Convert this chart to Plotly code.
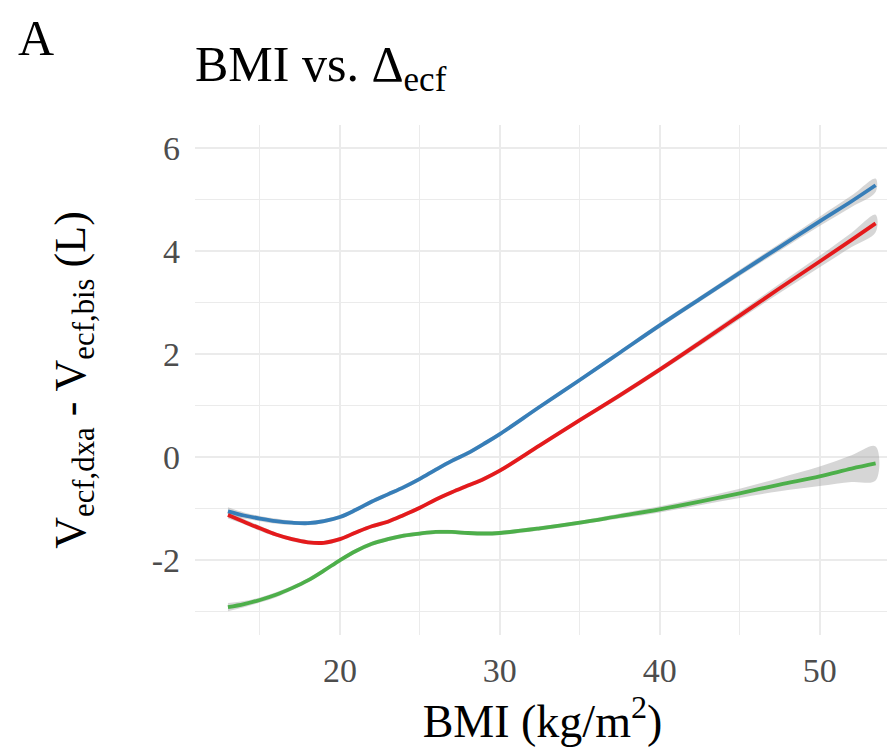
import plotly.graph_objects as go

# ---- data ----
bmi = [13, 14, 15, 16, 17, 18, 19, 20, 21, 22, 23, 24, 25, 26, 27, 28, 29, 30,
       32.5, 35, 37.5, 40, 42.5, 45, 47.5, 50, 52, 53.5]

blue_fit = [-1.05, -1.13, -1.19, -1.24, -1.27, -1.28, -1.24, -1.16, -1.02, -0.86,
            -0.72, -0.58, -0.42, -0.24, -0.07, 0.08, 0.26, 0.45,
            0.98, 1.50, 2.03, 2.56, 3.07, 3.58, 4.08, 4.58, 4.97, 5.28]
blue_se = [0.08, 0.06, 0.05, 0.05, 0.04, 0.04, 0.04, 0.04, 0.04, 0.04,
           0.04, 0.04, 0.04, 0.04, 0.04, 0.04, 0.04, 0.04,
           0.04, 0.04, 0.04, 0.05, 0.05, 0.06, 0.07, 0.09, 0.11, 0.13]

red_fit = [-1.12, -1.25, -1.38, -1.50, -1.59, -1.65, -1.66, -1.59, -1.46, -1.34,
           -1.25, -1.12, -0.98, -0.82, -0.68, -0.55, -0.42, -0.26,
           0.23, 0.72, 1.20, 1.70, 2.22, 2.75, 3.28, 3.80, 4.22, 4.54]
red_se = [0.07, 0.05, 0.05, 0.04, 0.04, 0.04, 0.04, 0.04, 0.04, 0.04,
          0.04, 0.04, 0.04, 0.04, 0.04, 0.04, 0.04, 0.04,
          0.04, 0.04, 0.05, 0.05, 0.06, 0.07, 0.09, 0.11, 0.14, 0.17]

green_fit = [-2.91, -2.85, -2.77, -2.67, -2.54, -2.39, -2.20, -2.00, -1.82, -1.68,
             -1.59, -1.52, -1.48, -1.45, -1.45, -1.47, -1.48, -1.47,
             -1.38, -1.27, -1.14, -1.01, -0.86, -0.70, -0.53, -0.37, -0.22, -0.12]
green_se = [0.08, 0.06, 0.05, 0.05, 0.04, 0.04, 0.04, 0.04, 0.04, 0.04,
            0.04, 0.04, 0.04, 0.04, 0.04, 0.04, 0.04, 0.04,
            0.04, 0.04, 0.05, 0.06, 0.07, 0.09, 0.13, 0.19, 0.26, 0.33]

series = [
    ("blue", blue_fit, blue_se, "#377EB8"),
    ("red", red_fit, red_se, "#E41A1C"),
    ("green", green_fit, green_se, "#4DAF4A"),
]

x_ticks = [20, 30, 40, 50]
y_ticks = [-2, 0, 2, 4, 6]

FONT = "Liberation Serif, Times New Roman, serif"

# page has an 8px body margin, so the figure is drawn 8px smaller/offset
W, H = 887, 744
ML, MR, MT, MB = 187, 5, 117, 117
PW, PH = W - ML - MR, H - MT - MB

fig = go.Figure()

for name, fit, se, col in series:
    upper = [f + s for f, s in zip(fit, se)]
    lower = [f - s for f, s in zip(fit, se)]
    fig.add_trace(go.Scatter(
        x=bmi + bmi[::-1], y=upper + lower[::-1],
        fill="toself", fillcolor="rgba(153,153,153,0.4)",
        line=dict(width=0, shape="spline"), mode="lines",
        hoverinfo="skip", showlegend=False, name=name + " CI"))

for name, fit, se, col in series:
    fig.add_trace(go.Scatter(
        x=bmi, y=fit, mode="lines", name=name,
        line=dict(color=col, width=3.8, shape="spline"),
        showlegend=False))

fig.update_layout(
    width=W, height=H,
    margin=dict(l=ML, r=MR, t=MT, b=MB, autoexpand=False),
    paper_bgcolor="white", plot_bgcolor="white",
    font=dict(family=FONT, color="#000000"),
    title=dict(text="BMI vs. Δ<sub>ecf</sub>", x=187 / W, xanchor="left",
               y=1 - 55 / H, yanchor="middle",
               font=dict(family=FONT, size=50, color="#000000")),
    annotations=[dict(text="A", xref="paper", yref="paper",
                      x=(8 - ML) / PW, y=1 + MT / PH,
                      xanchor="left", yanchor="top", showarrow=False,
                      font=dict(family=FONT, size=50, color="#000000"))],
)

fig.update_xaxes(
    range=[10.94, 54.4], tickvals=x_ticks, ticktext=[str(v) for v in x_ticks],
    automargin=False,
    showgrid=True, gridcolor="#EBEBEB", gridwidth=1.5,
    minor=dict(dtick=5, tick0=15, showgrid=True, gridcolor="#EBEBEB", gridwidth=1.0),
    zeroline=False, showline=False, ticks="",
    tickfont=dict(family=FONT, size=34, color="#4D4D4D"),
    ticklabelstandoff=12,
    title=dict(text="BMI (kg/m<sup>2</sup>)", standoff=14,
               font=dict(family=FONT, size=46, color="#000000")),
)
fig.update_yaxes(
    range=[-3.45, 6.45], tickvals=y_ticks, ticktext=[str(v) for v in y_ticks],
    automargin=False,
    showgrid=True, gridcolor="#EBEBEB", gridwidth=1.5,
    minor=dict(dtick=2, tick0=-3, showgrid=True, gridcolor="#EBEBEB", gridwidth=1.0),
    zeroline=False, showline=False, ticks="",
    tickfont=dict(family=FONT, size=34, color="#4D4D4D"),
    ticklabelstandoff=14,
    title=dict(text="V<sub>ecf,dxa</sub> - V<sub>ecf,bis</sub> (L)", standoff=52,
               font=dict(family=FONT, size=44, color="#000000")),
)

fig.write_html("out.html")
